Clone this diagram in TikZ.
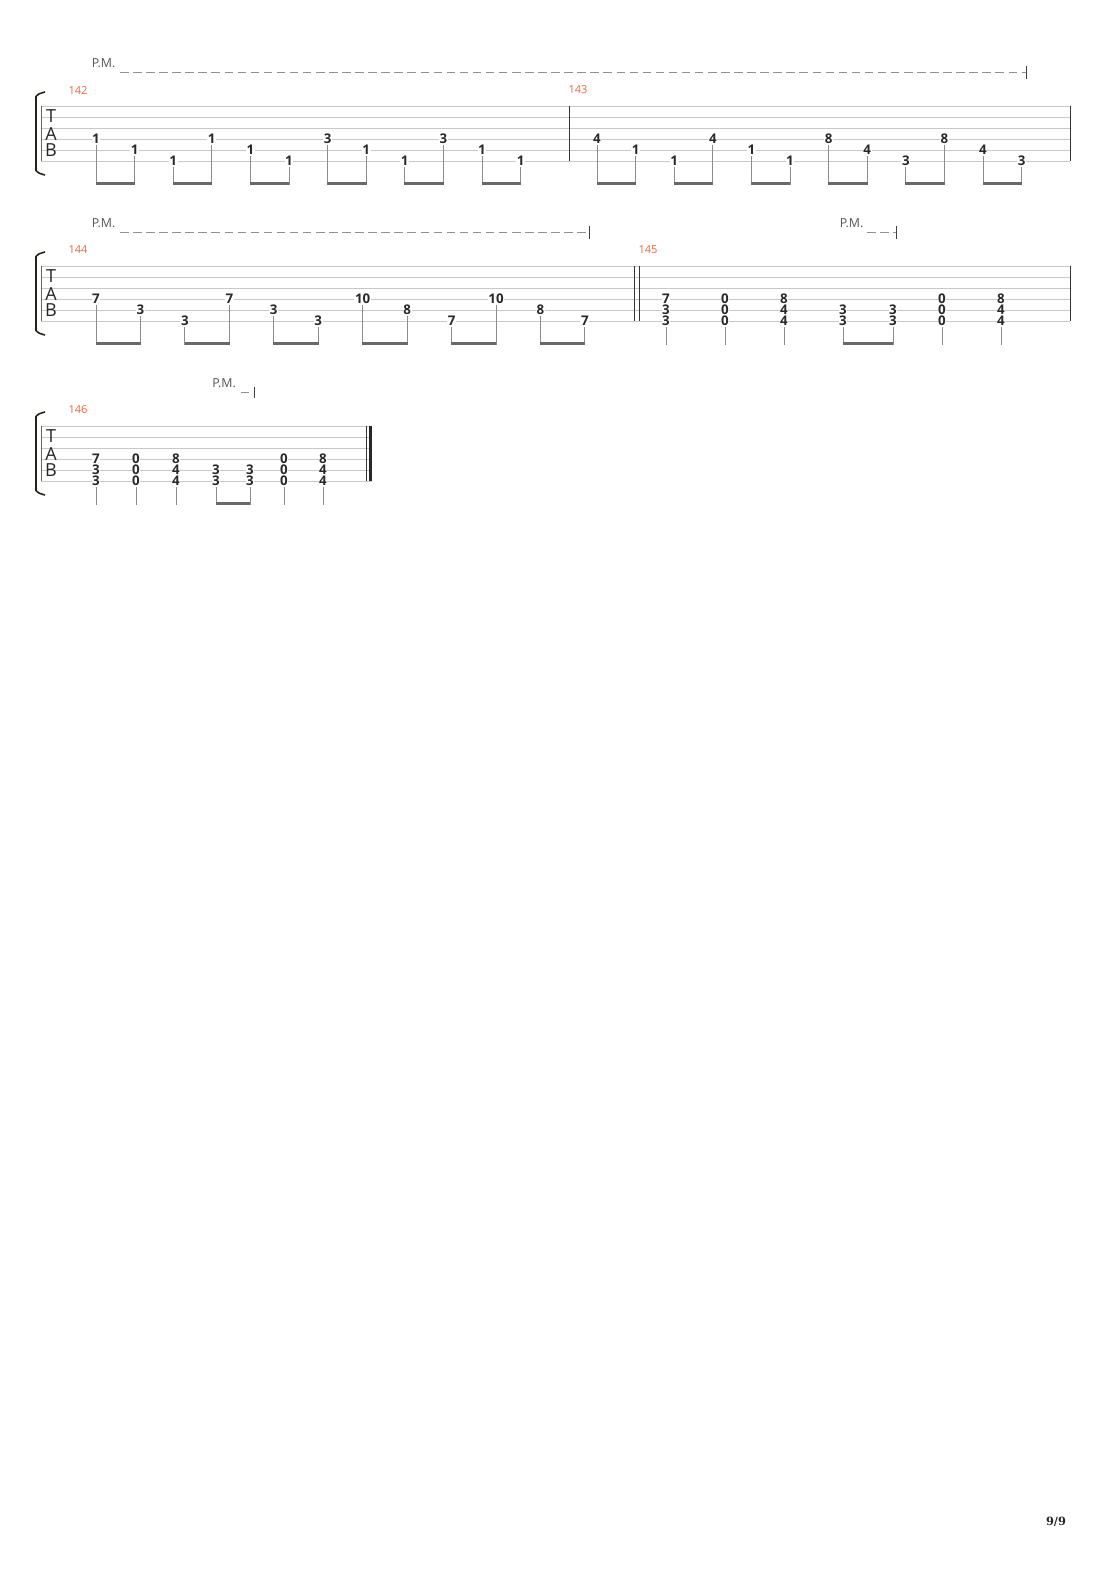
\documentclass[tikz,border=0pt]{standalone}
\usepackage{fontspec}
\setmainfont{Open Sans}
\newfontfamily\pagenrfont{DejaVu Serif}
\usepackage{tikz}

\definecolor{staffgray}{RGB}{200,200,200}
\definecolor{pmgray}{RGB}{145,145,145}
\definecolor{pmink}{RGB}{85,85,85}
\definecolor{barnr}{RGB}{245,100,55}
\definecolor{beamgray}{RGB}{105,105,105}
\definecolor{stemgray}{RGB}{140,140,140}
\definecolor{fretink}{RGB}{40,40,40}
\definecolor{bracketink}{RGB}{35,35,25}

\tikzset{
  staffline/.style={staffgray,line width=0.75pt},
  barline/.style={black!80,line width=0.75pt},
  fret/.style={fill=white,inner sep=0.5pt,text=fretink,font=\bfseries\fontsize{10}{10}\selectfont},
  tabletter/.style={inner sep=0pt,text=black!85,font=\fontsize{13.5}{13.5}\selectfont},
  barnumber/.style={inner sep=0pt,text=barnr,font=\fontsize{8.3}{8.3}\selectfont},
  pmtext/.style={inner sep=0pt,anchor=west,text=pmink,font=\fontsize{9.3}{9.3}\selectfont},
  pmline/.style={pmgray,line width=1.4pt,dash pattern=on 6.4pt off 3.4pt},
  pmend/.style={black!75,line width=0.75pt},
  stem/.style={stemgray,line width=0.75pt},
  beam/.style={beamgray,line width=2.25pt}
}

\begin{document}
\begin{tikzpicture}[x=0.75pt,y=-0.75pt]
  \useasboundingbox (0,0) rectangle (1110,1570);
  % staves: top line / right end
  \foreach \y/\xr in {106/1070,266/1070,426/372}{
    \foreach \s in {0,...,5}
      \draw[staffline] (41,\y+11*\s) -- (\xr,\y+11*\s);
    \draw[black!60,line width=0.6pt] (41,\y) -- (41,\y+55);
    \draw[bracketink,line width=2.2pt] (36,\y-10) -- (36,\y+65);
    \draw[bracketink,line width=1.2pt] (35.5,\y-9) .. controls (38,\y-12) .. (45,\y-14);
    \draw[bracketink,line width=1.2pt] (35.5,\y+64) .. controls (38,\y+67) .. (45,\y+69);
    \node[tabletter] (tabT\y) at (51,\y+10) {T};
    \node[tabletter] (tabA\y) at (51,\y+28) {A};
    \node[tabletter] (tabB\y) at (51,\y+44.5) {B};
  }
  % barlines
  \draw[barline] (569,106) -- (569,161);
  \draw[barline] (1070,106) -- (1070,161);
  \draw[barline] (634,266) -- (634,321);
  \draw[barline] (639,266) -- (639,321);
  \draw[barline] (1070,266) -- (1070,321);
  \draw[barline] (366,426) -- (366,481);
  \draw[black!85,line width=2.4pt] (370.7,426) -- (370.7,481);
  % bar numbers
  \node[barnumber] (m142) at (78,90) {142};
  \node[barnumber] (m143) at (578,90) {143};
  \node[barnumber] (m144) at (78,250) {144};
  \node[barnumber] (m145) at (648,250) {145};
  \node[barnumber] (m146) at (78,410) {146};
  % palm mutes
  \node[pmtext] (pm1) at (91.5,63) {P.M.};
  \draw[pmline] (120,72.5) -- (1026,72.5);
  \draw[pmend] (1026,66) -- (1026,79);
  \node[pmtext] (pm2) at (91.5,223) {P.M.};
  \draw[pmline] (120,232.5) -- (589,232.5);
  \draw[pmend] (589,226) -- (589,239);
  \node[pmtext] (pm3) at (839.5,223) {P.M.};
  \draw[pmline] (867,232.5) -- (896,232.5);
  \draw[pmend] (896,226) -- (896,239);
  \node[pmtext] (pm4) at (212,383) {P.M.};
  \draw[pmline] (240.5,392.5) -- (254,392.5);
  \draw[pmend] (254,387) -- (254,398);

  % bar 142 and 143
  \foreach \s/\f [count=\i] in {4/1,5/1,6/1,4/1,5/1,6/1,4/3,5/1,6/1,4/3,5/1,6/1}{
    \pgfmathsetmacro\x{96+38.6*(\i-1)}
    \draw[stem] (\x,106+11*\s-5) -- (\x,184.5);
    \node[fret] (a\i) at (\x,95+11*\s) {\f};
  }
  \foreach \s/\f [count=\i] in {4/4,5/1,6/1,4/4,5/1,6/1,4/8,5/4,6/3,4/8,5/4,6/3}{
    \pgfmathsetmacro\x{597+38.6*(\i-1)}
    \draw[stem] (\x,106+11*\s-5) -- (\x,184.5);
    \node[fret] (b\i) at (\x,95+11*\s) {\f};
  }
  \foreach \k in {0,...,5}{
    \draw[beam] (96+77.2*\k-0.4,183.5) -- (134.6+77.2*\k+0.4,183.5);
    \draw[beam] (597+77.2*\k-0.4,183.5) -- (635.6+77.2*\k+0.4,183.5);
  }

  % bar 144
  \foreach \s/\f [count=\i] in {4/7,5/3,6/3,4/7,5/3,6/3,4/10,5/8,6/7,4/10,5/8,6/7}{
    \pgfmathsetmacro\x{96+44.45*(\i-1)}
    \draw[stem] (\x,266+11*\s-5) -- (\x,344.5);
    \node[fret] (c\i) at (\x,255+11*\s) {\f};
  }
  \foreach \k in {0,...,5}
    \draw[beam] (96+88.9*\k-0.4,343.5) -- (140.45+88.9*\k+0.4,343.5);

  % bar 145
  \foreach \x/\s/\f [count=\i] in {666/4/7,666/5/3,666/6/3,725/4/0,725/5/0,725/6/0,
      784/4/8,784/5/4,784/6/4,843/5/3,843/6/3,893/5/3,893/6/3,942/4/0,942/5/0,942/6/0,
      1001/4/8,1001/5/4,1001/6/4}
    \node[fret] (d\i) at (\x,255+11*\s) {\f};
  \foreach \x in {666,725,784,843,893,942,1001}
    \draw[stem] (\x,327) -- (\x,345);
  \draw[beam] (842.6,343.5) -- (893.4,343.5);

  % bar 146
  \foreach \x/\s/\f [count=\i] in {96/4/7,96/5/3,96/6/3,136/4/0,136/5/0,136/6/0,
      176/4/8,176/5/4,176/6/4,216/5/3,216/6/3,250/5/3,250/6/3,284/4/0,284/5/0,284/6/0,
      323/4/8,323/5/4,323/6/4}
    \node[fret] (e\i) at (\x,415+11*\s) {\f};
  \foreach \x in {96,136,176,216,250,284,323}
    \draw[stem] (\x,487) -- (\x,505);
  \draw[beam] (215.6,503.5) -- (250.4,503.5);

  % page number
  \node[inner sep=0pt,text=black!85,font=\pagenrfont\bfseries\fontsize{8.5}{8.5}\selectfont] (pagenr) at (1056,1521.5) {9/9};
\end{tikzpicture}
\end{document}
